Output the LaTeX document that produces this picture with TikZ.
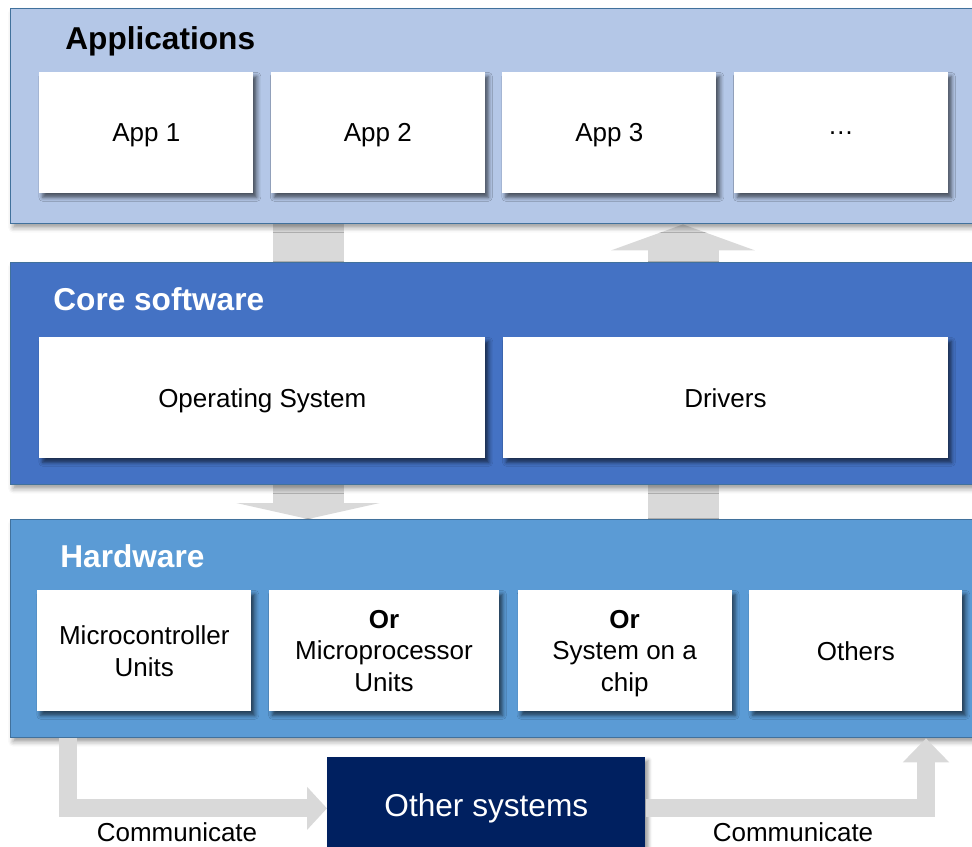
\documentclass[tikz,border=0pt]{standalone}
\usepackage{fontspec}
\setmainfont{Liberation Sans}
\usetikzlibrary{positioning, arrows.meta, shadows.blur}
\definecolor{appfill}{HTML}{B4C7E7}
\definecolor{corefill}{HTML}{4472C4}
\definecolor{hwfill}{HTML}{5B9BD5}
\definecolor{layerline}{HTML}{41719C}
\definecolor{arrowgray}{HTML}{D9D9D9}
\definecolor{navyfill}{HTML}{002060}
\pgfdeclarelayer{background}
\pgfsetlayers{background,main}
\newcommand\bodysize{\fontsize{14.8}{18}\selectfont}
\newcommand\titlesize{\fontsize{18}{22}\selectfont\bfseries}
\newcommand\othersize{\fontsize{18}{22}\selectfont}

\begin{document}
\begin{tikzpicture}[x=0.02cm, y=-0.02cm,
    layer/.style={draw=layerline, line width=0.8pt, minimum width=19.8cm, anchor=north west, inner sep=0pt,
      blur shadow={shadow xshift=0.05cm, shadow yshift=-0.08cm, shadow blur radius=0.1cm, shadow opacity=40}},
    title/.style={anchor=west, inner sep=0pt, text depth=0pt, font=\titlesize},
    box/.style={fill=white, minimum height=2.42cm, anchor=north west, inner sep=0pt, text depth=0pt,
      align=center, font=\bodysize,
      blur shadow={shadow xshift=0.07cm, shadow yshift=-0.08cm, shadow blur radius=0.08cm, shadow opacity=60}},
    fatarrow/.style={draw=arrowgray, line width=1.42cm},
    linkarrow/.style={draw=arrowgray, line width=0.36cm, line join=miter}]
  \useasboundingbox (0,0) rectangle (972,846);
  \clip (0,0) rectangle (972,846);

  % applications layer
  \node[layer, fill=appfill, minimum height=4.3cm] (apps) at (10,8) {};
  \node[title, text=black] (appstitle) at (65,38) {Applications};
  \foreach \i/\t in {1/App 1, 2/App 2, 3/App 3, 4/…}
    \node[box, minimum width=4.28cm] (app\i) at ({39+231.5*(\i-1)},72) {\t};

  % core software layer
  \node[layer, fill=corefill, minimum height=4.44cm] (core) at (10,262) {};
  \node[title, text=white] (coretitle) at (53,299) {Core software};
  \node[box, minimum width=8.92cm] (os) at (39,337) {Operating System};
  \node[box, minimum width=8.9cm, right=0.34cm of os] (drivers) {Drivers};

  % hardware layer
  \node[layer, fill=hwfill, minimum height=4.36cm] (hw) at (10,519) {};
  \node[title, text=white] (hwtitle) at (60,556) {Hardware};
  \node[box, minimum width=4.28cm] (mcu) at (37,590) {Microcontroller\\Units};
  \node[box, minimum width=4.6cm, right=0.34cm of mcu] (mpu) {\textbf{Or}\\Microprocessor\\Units};
  \node[box, minimum width=4.28cm, right=0.36cm of mpu] (soc) {\textbf{Or}\\System on a\\chip};
  \node[box, minimum width=4.26cm, right=0.34cm of soc] (others) {Others};

  \node[fill=navyfill, text=white, font=\othersize, minimum width=6.36cm, minimum height=2.04cm,
    anchor=north west, blur shadow={shadow xshift=0.06cm, shadow yshift=-0.06cm, shadow opacity=40}]
    (other) at (327,757) {Other systems};

  % arrows between the layers
  \coordinate (dn) at (308,0);
  \coordinate (up) at (683,0);
  \coordinate (outx) at (68,0);
  \coordinate (inx) at (926,0);
  \begin{pgfonlayer}{background}
    \draw[fatarrow, -{Triangle[width=2.86cm, length=0.32cm]}] (dn |- apps.south) -- (dn |- hw.north);
    \draw[fatarrow, -{Triangle[width=2.86cm, length=0.52cm]}] (up |- hw.north) -- (up |- apps.south);
  \end{pgfonlayer}
  \draw[linkarrow, -{Triangle[width=0.84cm, length=0.4cm]}] (outx |- hw.south) |- (other.west);
  \draw[linkarrow, -{Triangle[width=0.9cm, length=0.48cm]}] (other.east) -| (inx |- hw.south);
  \node[font=\bodysize, inner sep=0pt] (comm1) at (177,832) {Communicate};
  \node[font=\bodysize, inner sep=0pt] (comm2) at (793,832) {Communicate};
\end{tikzpicture}
\end{document}
